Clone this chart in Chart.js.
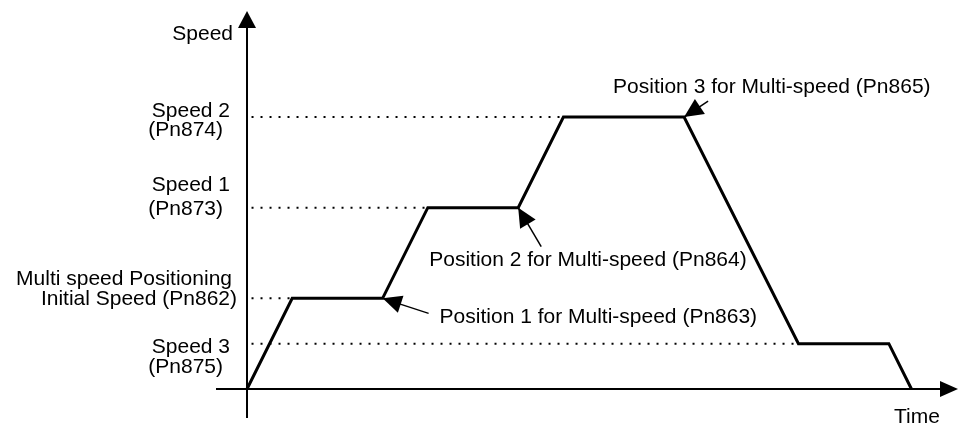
<!DOCTYPE html>
<html>
<head>
<meta charset="utf-8">
<script src="https://cdn.jsdelivr.net/npm/chart.js@4/dist/chart.umd.min.js"></script>
<style>
    body { margin: 0; background: #fff; }
    #speedChart { display: block; }
</style>
</head>
<body>
<canvas id="speedChart" width="960" height="423"></canvas>
<script>
// speed profile (time in arbitrary units, speed in units of the initial speed)
let profileTime = [0, 1, 3, 4, 6, 7, 9.67, 12.2, 14.2, 14.7];
let profileSpeed = [0, 1, 1, 2, 2, 3, 3, 0.5, 0.5, 0];

// dotted reference levels: speed value and where the dotted line stops
let levelSpeed = [3, 2, 1, 0.5];
let levelEnd = [7, 4, 1, 12.2];
let levelStart = 0.1;
let levelLabels = [
    ['Speed 2', '(Pn874)'],
    ['Speed 1', '(Pn873)'],
    ['Multi speed Positioning', 'Initial Speed (Pn862)'],
    ['Speed 3', '(Pn875)']
];

// position callouts: text and the profile corner the arrow points at
let positionLabels = ['Position 3 for Multi-speed (Pn865)', 'Position 2 for Multi-speed (Pn864)', 'Position 1 for Multi-speed (Pn863)'];
let positionTime = [9.67, 6, 3];
let positionSpeed = [3, 2, 1];

let axisTitleY = 'Speed';
let axisTitleX = 'Time';

const FONT = '21px "Liberation Sans", Arial, sans-serif';

// layout of the label lines: [right edge offset from y axis, dy from level]
const levelLayout = [
    [[-17, -6], [-24, 13]],
    [[-17, -22], [-24, 2]],
    [[-15, -19], [-10, 1]],
    [[-17, 4], [-24, 24]]
];
// callouts: arrow tail offset from tip, text offset from tip
const calloutLayout = [
    { tail: [24, -16], text: [-71, -30] },
    { tail: [23, 39], text: [-89, 53] },
    { tail: [46, 15], text: [57, 19] }
];


function arrowHead(ctx, tipX, tipY, fromX, fromY, len, half) {
    let ang = Math.atan2(tipY - fromY, tipX - fromX);
    let bx = tipX - len * Math.cos(ang);
    let by = tipY - len * Math.sin(ang);
    ctx.beginPath();
    ctx.moveTo(tipX, tipY);
    ctx.lineTo(bx + half * Math.sin(ang), by - half * Math.cos(ang));
    ctx.lineTo(bx - half * Math.sin(ang), by + half * Math.cos(ang));
    ctx.closePath();
    ctx.fill();
}


const diagramPlugin = {
    id: 'diagram',
    beforeDatasetsDraw(chart) {
        let ctx = chart.ctx;
        let area = chart.chartArea;
        let xs = chart.scales.x;
        let ys = chart.scales.y;
        let x0 = xs.getPixelForValue(0);
        let y0 = ys.getPixelForValue(0);

        ctx.save();
        ctx.strokeStyle = '#000';
        ctx.fillStyle = '#000';
        ctx.lineWidth = 2;
        // y axis
        ctx.beginPath();
        ctx.moveTo(x0, area.bottom);
        ctx.lineTo(x0, area.top + 10);
        ctx.stroke();
        arrowHead(ctx, x0, area.top, x0, area.top + 20, 17, 9);
        // x axis
        ctx.beginPath();
        ctx.moveTo(area.left, y0);
        ctx.lineTo(area.right - 10, y0);
        ctx.stroke();
        arrowHead(ctx, area.right, y0, area.right - 20, y0, 18, 8);
        ctx.restore();
    },
    afterDatasetsDraw(chart) {
        let ctx = chart.ctx;
        let area = chart.chartArea;
        let xs = chart.scales.x;
        let ys = chart.scales.y;
        let x0 = xs.getPixelForValue(0);
        let y0 = ys.getPixelForValue(0);

        ctx.save();
        ctx.font = FONT;
        ctx.fillStyle = '#000';
        ctx.strokeStyle = '#000';
        ctx.textBaseline = 'middle';

        ctx.textAlign = 'right';
        ctx.fillText(axisTitleY, x0 - 14, area.top + 23);
        for (let i = 0; i < levelLabels.length; i++) {
            let ly = ys.getPixelForValue(levelSpeed[i]);
            for (let j = 0; j < levelLabels[i].length; j++) {
                let lay = levelLayout[i][j];
                ctx.fillText(levelLabels[i][j], x0 + lay[0], ly + lay[1]);
            }
        }
        ctx.textAlign = 'left';
        ctx.fillText(axisTitleX, area.right - 64, y0 + 28);

        for (let i = 0; i < positionLabels.length; i++) {
            let tx = xs.getPixelForValue(positionTime[i]);
            let ty = ys.getPixelForValue(positionSpeed[i]);
            let lay = calloutLayout[i];
            ctx.lineWidth = 1.5;
            ctx.beginPath();
            ctx.moveTo(tx + lay.tail[0], ty + lay.tail[1]);
            ctx.lineTo(tx, ty);
            ctx.stroke();
            arrowHead(ctx, tx, ty, tx + lay.tail[0], ty + lay.tail[1], 19, 9);
            ctx.fillText(positionLabels[i], tx + lay.text[0], ty + lay.text[1]);
        }
        ctx.restore();
    }
};


function createDatasets() {
    let sets = [];
    for (let i = 0; i < levelSpeed.length; i++) {
        sets.push({
            data: [{ x: levelStart, y: levelSpeed[i] }, { x: levelEnd[i], y: levelSpeed[i] }],
            borderColor: '#000',
            borderWidth: 2,
            borderDash: [2, 7],
            borderCapStyle: 'butt',
            pointRadius: 0,
            fill: false
        });
    }
    sets.push({
        data: profileTime.map((t, i) => ({ x: t, y: profileSpeed[i] })),
        borderColor: '#000',
        borderWidth: 3,
        borderJoinStyle: 'miter',
        pointRadius: 0,
        tension: 0,
        fill: false
    });
    return sets;
}


let speedChart = new Chart('speedChart', {
    type: 'line',
    data: { datasets: createDatasets() },
    options: {
        responsive: false,
        animation: false,
        layout: { padding: { left: 216, right: 2, top: 11, bottom: 5 } },
        plugins: { legend: { display: false }, tooltip: { enabled: false } },
        scales: {
            x: { type: 'linear', min: -0.686, max: 15.73, display: false },
            y: { type: 'linear', min: -0.32, max: 4.17, display: false }
        }
    },
    plugins: [diagramPlugin]
});
</script>
</body>
</html>
